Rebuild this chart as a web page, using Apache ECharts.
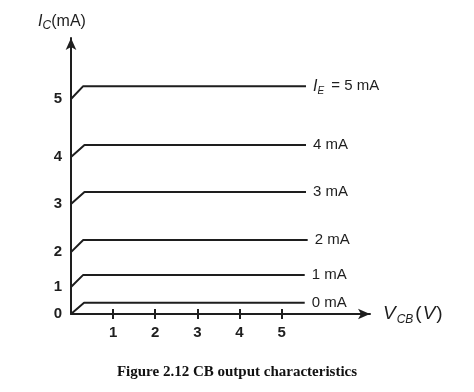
<!DOCTYPE html>
<html>
<head>
<meta charset="utf-8">
<script src="https://cdn.jsdelivr.net/npm/echarts@6/dist/echarts.min.js"></script>
<style>
  html, body { margin: 0; padding: 0; background: #fff; }
  #chart { width: 474px; height: 392px; }
</style>
</head>
<body>
<div id="chart"></div>
<script>
  // emitter currents of each curve (mA)
  var currents = [0, 1, 2, 3, 4, 5];
  // schematic levels (the drawing is not to scale)
  var startLevels = [0, 0.63, 1.44, 2.56, 3.65, 5.0];
  var flatLevels = [0.26, 0.91, 1.72, 2.84, 3.93, 5.30];
  var kneeV = [0.31, 0.29, 0.29, 0.32, 0.32, 0.29];
  var endV = [5.55, 5.55, 5.62, 5.58, 5.58, 5.58];
  var yTickLabels = ['0', '1', '2', '3', '4', '5'];
  var xTicks = [1, 2, 3, 4, 5];

  var myChart = echarts.init(document.getElementById('chart'));
  var ink = '#1e1e1e';
  var sans = 'Liberation Sans, Arial, sans-serif';

  var series = currents.map(function (ie, i) {
    return {
      type: 'line',
      symbol: 'none',
      silent: true,
      lineStyle: { color: ink, width: 2 },
      data: [[0, startLevels[i]], [kneeV[i], flatLevels[i]], [endV[i], flatLevels[i]]],
      endLabel: {
        show: true,
        distance: 7,
        color: ink,
        fontFamily: sans,
        fontSize: 15,
        formatter: i === currents.length - 1 ? '{i|I}{s|E} = ' + ie + ' mA' : ie + ' mA',
        rich: {
          i: { fontStyle: 'italic', fontSize: 16, fontFamily: sans, color: ink },
          s: { fontStyle: 'italic', fontSize: 10, fontFamily: sans, color: ink, padding: [10, 3, 0, 0] }
        }
      }
    };
  });

  var option = {
    animation: false,
    title: {
      text: 'Figure 2.12 CB output characteristics',
      left: 'center',
      top: 360,
      textStyle: { fontFamily: 'Liberation Serif, Times New Roman, serif', fontWeight: 'bold', fontSize: 15, color: '#111' }
    },
    grid: { left: 71, right: 104, top: 38, bottom: 78 },
    xAxis: [{
      type: 'value',
      min: 0,
      max: 7.1,
      name: '{v|V}{s|CB}{n|(}{v|V}{n|)}',
      nameLocation: 'end',
      nameGap: 12,
      nameTextStyle: {
        rich: {
          v: { fontStyle: 'italic', fontSize: 19, fontFamily: sans, color: ink, padding: [0, 1, 0, 1] },
          n: { fontSize: 19, fontFamily: sans, color: ink },
          s: { fontStyle: 'italic', fontSize: 12, fontFamily: sans, color: ink, padding: [11, 2, 0, 0] }
        }
      },
      splitLine: { show: false },
      axisLine: { lineStyle: { color: ink, width: 2 }, symbol: ['none', 'arrow'], symbolSize: [8, 12] },
      axisTick: { customValues: xTicks, length: 5, lineStyle: { color: ink, width: 2 } },
      axisLabel: { customValues: xTicks, color: ink, fontFamily: sans, fontWeight: 'bold', fontSize: 15, margin: 11 }
    }, {
      type: 'value',
      min: 0,
      max: 7.1,
      position: 'bottom',
      splitLine: { show: false },
      axisLine: { show: false },
      axisTick: { customValues: xTicks, inside: true, length: 5, lineStyle: { color: ink, width: 2 } },
      axisLabel: { show: false }
    }],
    yAxis: {
      type: 'value',
      min: 0,
      max: 6.42,
      name: '{i|I}{s|C}{n|(mA)}',
      nameLocation: 'end',
      nameGap: 6,
      nameTextStyle: {
        padding: [0, 18, 0, 0],
        rich: {
          i: { fontStyle: 'italic', fontSize: 16, fontFamily: sans, color: ink },
          n: { fontSize: 16, fontFamily: sans, color: ink },
          s: { fontStyle: 'italic', fontSize: 12, fontFamily: sans, color: ink, padding: [8, 0, 0, 0] }
        }
      },
      splitLine: { show: false },
      axisLine: { lineStyle: { color: ink, width: 2 }, symbol: ['none', 'arrow'], symbolSize: [8, 12] },
      axisTick: { show: false },
      axisLabel: {
        customValues: startLevels,
        color: ink,
        fontFamily: sans,
        fontWeight: 'bold',
        fontSize: 15,
        margin: 9,
        formatter: function (v) {
          var best = 0;
          startLevels.forEach(function (s, k) {
            if (Math.abs(s - v) < Math.abs(startLevels[best] - v)) best = k;
          });
          return yTickLabels[best];
        }
      }
    },
    series: series
  };

  myChart.setOption(option);
</script>
</body>
</html>
